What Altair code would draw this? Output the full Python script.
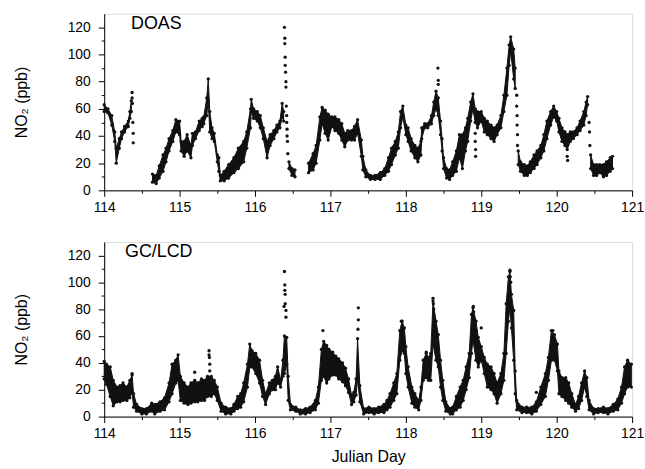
import altair as alt
import pandas as pd

# ---------------- DOAS (top panel) ----------------
doas_day = [114.00, 114.05, 114.10, 114.14, 114.16, 114.20, 114.23, 114.27, 114.32, 114.34, 114.36,
            114.64, 114.69, 114.73, 114.78, 114.82, 114.86, 114.91, 114.95, 115.00, 115.02, 115.06, 115.10,
            115.15, 115.17, 115.21, 115.26, 115.30, 115.32, 115.36, 115.38, 115.40, 115.43, 115.46, 115.50,
            115.52, 115.54, 115.59, 115.65, 115.72, 115.78, 115.85, 115.89, 115.94, 115.95, 115.98, 116.03,
            116.07, 116.11, 116.16, 116.20, 116.25, 116.29, 116.33, 116.36, 116.38,
            116.45, 116.49, 116.53,
            116.71, 116.77, 116.81, 116.86, 116.89, 116.93, 116.97, 117.02, 117.06, 117.11, 117.15, 117.19,
            117.23, 117.28, 117.32, 117.36, 117.41, 117.43, 117.47, 117.53, 117.59, 117.66, 117.72, 117.77,
            117.81, 117.86, 117.90, 117.93, 117.96, 118.00, 118.03, 118.07, 118.12, 118.16, 118.20, 118.21,
            118.25, 118.29, 118.34, 118.37, 118.40, 118.43, 118.46, 118.48, 118.50, 118.54, 118.58, 118.62,
            118.67, 118.71, 118.75, 118.79, 118.82, 118.86, 118.89, 118.92, 118.95, 119.00, 119.04, 119.08,
            119.13, 119.17, 119.21, 119.26, 119.30, 119.34, 119.37, 119.39, 119.43, 119.45,
            119.49, 119.52, 119.57, 119.61, 119.65, 119.70, 119.74, 119.79, 119.83, 119.87, 119.92, 119.96,
            120.00, 120.03, 120.07, 120.11, 120.14, 120.18, 120.22, 120.27, 120.31, 120.36, 120.39, 120.41,
            120.45, 120.49, 120.53, 120.57, 120.62, 120.66, 120.71, 120.74]
doas_lo = [58, 57, 48, 36, 20, 31, 38, 43, 47, 53, 58,
           6, 5, 9, 14, 21, 29, 36, 43, 41, 29, 25, 29,
           24, 33, 38, 44, 47, 49, 55, 66, 43, 38, 36, 21,
           14, 7, 7, 9, 13, 16, 21, 31, 46, 58, 53, 51,
           46, 38, 24, 33, 38, 43, 46, 54, 51,
           16, 11, 10,
           13, 15, 20, 37, 49, 42, 37, 47, 44, 42, 37, 32,
           37, 37, 37, 42, 25, 15, 10, 8, 8, 8, 11, 14,
           19, 26, 31, 46, 54, 41, 36, 29, 24, 21, 26, 38,
           46, 46, 49, 55, 60, 55, 41, 29, 16, 9, 8, 11,
           14, 24, 16, 29, 36, 51, 60, 50, 46, 51, 43, 41,
           38, 36, 41, 46, 58, 70, 92, 102, 82, 75,
           19, 14, 11, 11, 13, 16, 19, 24, 29, 38, 48, 54,
           51, 43, 36, 33, 30, 36, 38, 41, 44, 48, 55, 63,
           16, 11, 11, 13, 10, 11, 14, 16]
doas_hi = [63, 60, 55, 43, 31, 38, 43, 47, 51, 58, 66,
           12, 11, 18, 26, 31, 38, 44, 52, 51, 36, 36, 41,
           33, 42, 43, 51, 53, 54, 68, 82, 58, 46, 42, 26,
           24, 11, 14, 19, 24, 31, 36, 43, 60, 67, 60, 58,
           55, 46, 36, 41, 44, 48, 51, 64, 58,
           21, 16, 15,
           20, 27, 33, 54, 61, 59, 56, 54, 54, 52, 49, 42,
           44, 44, 47, 52, 37, 25, 15, 11, 11, 13, 16, 24,
           31, 36, 43, 58, 62, 48, 46, 38, 33, 31, 36, 46,
           49, 49, 55, 65, 73, 68, 51, 38, 24, 16, 15, 21,
           29, 41, 41, 46, 53, 65, 71, 60, 58, 58, 53, 51,
           48, 46, 48, 55, 70, 90, 107, 113, 104, 90,
           29, 21, 19, 18, 21, 26, 29, 33, 41, 51, 58, 62,
           58, 53, 46, 43, 41, 43, 43, 46, 51, 58, 65, 69,
           26, 19, 19, 19, 19, 21, 24, 25]
doas_seg = [1] * 11 + [2] * 45 + [3] * 3 + [4] * 70 + [5] * 24 + [6] * 8
doas_spike_day = [114.37, 114.37, 114.375, 114.38, 114.385, 114.385,
                  116.39, 116.395, 116.395, 116.40, 116.40, 116.405, 116.41, 116.41, 116.415, 116.42,
                  116.42, 116.425, 116.425, 116.43, 116.435,
                  118.425, 118.43, 118.43, 118.92, 118.92, 118.925, 118.925,
                  119.47, 119.47, 119.475, 119.475, 119.48, 119.48,
                  120.14, 120.145, 120.43, 120.435, 120.44]
doas_spike_val = [72, 68, 64, 50, 42, 35,
                  120, 112, 108, 98, 92, 87, 80, 76, 62, 55,
                  50, 45, 40, 36, 27,
                  90, 81, 78, 42, 36, 30, 25,
                  70, 62, 55, 48, 41, 33,
                  25, 22, 50, 43, 33]

# ---------------- GC/LCD (bottom panel) ----------------
gc_day = [114.00, 114.03, 114.08, 114.12, 114.17, 114.21, 114.25, 114.30, 114.34, 114.37, 114.39, 114.43,
          114.50, 114.56, 114.63, 114.67, 114.74, 114.80, 114.86, 114.90, 114.95, 114.98, 115.01, 115.06,
          115.11, 115.15, 115.20, 115.24, 115.29, 115.33, 115.37, 115.42, 115.46, 115.50, 115.55, 115.61,
          115.68, 115.72, 115.77, 115.81, 115.85, 115.90, 115.93, 115.96, 116.01, 116.06, 116.10, 116.14,
          116.19, 116.23, 116.27, 116.30, 116.34, 116.37, 116.39, 116.42, 116.44, 116.47, 116.54, 116.60,
          116.67, 116.73, 116.80, 116.84, 116.88, 116.91, 116.95, 116.98, 117.03, 117.07, 117.11, 117.16,
          117.20, 117.24, 117.28, 117.31, 117.34, 117.36, 117.39, 117.44, 117.51, 117.58, 117.64, 117.71,
          117.75, 117.79, 117.84, 117.88, 117.92, 117.95, 117.98, 118.00, 118.03, 118.08, 118.12, 118.17,
          118.20, 118.23, 118.27, 118.30, 118.33, 118.36, 118.40, 118.43, 118.46, 118.49, 118.53, 118.59,
          118.62, 118.67, 118.72, 118.76, 118.80, 118.84, 118.87, 118.89, 118.93, 118.96, 119.00, 119.04,
          119.08, 119.13, 119.17, 119.21, 119.26, 119.30, 119.33, 119.36, 119.38, 119.40, 119.43, 119.45,
          119.47, 119.54, 119.60, 119.67, 119.73, 119.79, 119.85, 119.89, 119.93, 119.97, 120.01, 120.03,
          120.07, 120.12, 120.16, 120.20, 120.25, 120.29, 120.33, 120.37, 120.40, 120.43, 120.49, 120.55,
          120.62, 120.68, 120.75, 120.81, 120.86, 120.90, 120.94, 120.99]
gc_lo = [28, 24, 15, 8, 11, 11, 12, 12, 14, 18, 7, 4,
         2, 2, 4, 2, 4, 5, 11, 17, 25, 27, 12, 10,
         9, 10, 11, 11, 12, 12, 15, 15, 17, 12, 4, 2,
         2, 4, 6, 7, 11, 22, 37, 37, 32, 25, 15, 9,
         17, 20, 20, 25, 22, 30, 32, 39, 12, 5, 4, 2,
         2, 3, 5, 10, 27, 30, 25, 28, 31, 31, 28, 26,
         23, 18, 9, 11, 16, 28, 11, 2, 3, 2, 3, 3,
         5, 7, 12, 17, 42, 49, 47, 32, 22, 10, 7, 5,
         12, 27, 29, 27, 27, 54, 42, 37, 22, 12, 4, 2,
         2, 5, 7, 12, 20, 29, 47, 57, 42, 37, 42, 32,
         22, 20, 17, 10, 17, 27, 47, 71, 81, 66, 42, 17,
         5, 3, 3, 2, 4, 9, 15, 27, 42, 42, 34, 17,
         15, 12, 10, 7, 4, 6, 12, 22, 15, 5, 2, 3,
         3, 2, 4, 5, 10, 17, 22, 22]
gc_hi = [41, 39, 37, 27, 22, 23, 25, 22, 27, 31, 17, 9,
         6, 6, 10, 9, 11, 14, 25, 39, 42, 46, 30, 25,
         22, 25, 27, 25, 28, 27, 30, 30, 27, 22, 10, 7,
         6, 9, 15, 17, 25, 39, 54, 49, 47, 42, 27, 17,
         25, 27, 30, 37, 27, 42, 60, 59, 30, 9, 7, 5,
         6, 7, 12, 22, 50, 56, 53, 50, 48, 45, 43, 40,
         36, 28, 16, 18, 28, 58, 23, 6, 7, 6, 7, 9,
         12, 17, 25, 32, 64, 71, 66, 52, 37, 22, 17, 12,
         22, 42, 47, 44, 47, 86, 71, 61, 42, 27, 11, 6,
         7, 15, 22, 27, 37, 47, 76, 81, 71, 59, 52, 44,
         39, 37, 32, 25, 32, 47, 84, 104, 108, 91, 79, 34,
         12, 7, 7, 7, 11, 22, 32, 44, 64, 61, 54, 34,
         29, 29, 25, 17, 9, 15, 25, 34, 29, 12, 6, 6,
         7, 6, 9, 13, 22, 37, 42, 39]
gc_seg = [1] * len(gc_day)
gc_spike_day = [114.37, 115.20, 115.39, 115.39, 115.395, 115.40, 115.40,
                116.39, 116.395, 116.395, 116.40, 116.40, 116.41, 116.41, 116.385,
                116.90, 117.37, 117.37, 117.365, 117.94, 118.27,
                118.36, 118.365, 118.37, 118.895, 118.90, 118.93, 119.00,
                119.38, 119.385, 119.39, 119.73, 119.95]
gc_spike_val = [32, 33, 49, 46, 44, 39, 34,
                108, 98, 94, 91, 84, 79, 74, 82,
                64, 81, 72, 65, 71, 48,
                88, 84, 80, 82, 78, 64, 66,
                109, 104, 100, 18, 64]

# axis tick positions (major + minor) and labels
x_ticks = [114, 114.5, 115, 115.5, 116, 116.5, 117, 117.5, 118, 118.5, 119, 119.5, 120, 120.5, 121]
y_ticks = [0, 10, 20, 30, 40, 50, 60, 70, 80, 90, 100, 110, 120]

BLACK = "#111111"
FONT = "Liberation Sans"


def make_panel(day, lo, hi, seg, sp_day, sp_val, label, label_x, bottom, h):
    band = pd.DataFrame({"day": day, "lo": lo, "hi": hi, "seg": seg})
    pts = pd.DataFrame({
        "day": list(day) + list(day) + list(sp_day),
        "v": list(lo) + list(hi) + list(sp_val),
    })
    xscale = alt.Scale(domain=[114, 121], nice=False, zero=False)
    yscale = alt.Scale(domain=[0, 130], nice=False, zero=True)
    xaxis_kw = dict(
        values=x_ticks, orient="bottom", grid=False,
        labelExpr="datum.value % 1 === 0 ? format(datum.value, 'd') : ''",
        tickSize={"condition": {"test": "datum.value % 1 !== 0", "value": 3}, "value": 6},
        labelOverlap=False, labelFlush=False, labelBound=False,
        labelPadding=4, labelFontSize=14, labelFont=FONT, labelColor="black",
        domainColor="black", tickColor="black",
    )
    if bottom:
        xaxis = alt.Axis(title="Julian Day", titleFontSize=16, titleFont=FONT,
                         titleFontWeight="normal", titleColor="black", titlePadding=8, **xaxis_kw)
    else:
        xaxis = alt.Axis(title=None, **xaxis_kw)
    yaxis = alt.Axis(
        values=y_ticks, title="NO₂ (ppb)", orient="left", grid=False,
        labelExpr="datum.value % 20 === 0 ? format(datum.value, 'd') : ''",
        tickSize={"condition": {"test": "datum.value % 20 !== 0", "value": 3}, "value": 6},
        labelOverlap=False, labelFlush=False, labelBound=False,
        labelPadding=8, labelFontSize=14, labelFont=FONT, labelColor="black",
        domainColor="black", tickColor="black",
        titleFontSize=16, titleFont=FONT, titleFontWeight="normal",
        titleColor="black", titlePadding=38,
    )

    area = alt.Chart(band).mark_area(color=BLACK, opacity=1, stroke=BLACK, strokeWidth=1).encode(
        x=alt.X("day:Q", scale=xscale, axis=xaxis),
        y=alt.Y("lo:Q", scale=yscale, axis=yaxis),
        y2="hi:Q",
        detail="seg:N",
    )
    dots = alt.Chart(pts).mark_circle(color=BLACK, size=11, opacity=1).encode(
        x=alt.X("day:Q", scale=xscale, axis=xaxis),
        y=alt.Y("v:Q", scale=yscale, axis=yaxis),
    )
    txt = alt.Chart(pd.DataFrame({"t": [label]})).mark_text(
        align="left", baseline="middle", fontSize=18, font=FONT, color="black"
    ).encode(text="t:N", x=alt.value(label_x), y=alt.value(10))
    return alt.layer(area, dots, txt).properties(width=532, height=h)


top = make_panel(doas_day, doas_lo, doas_hi, doas_seg, doas_spike_day, doas_spike_val,
                 "DOAS", 27, False, 178)
bot = make_panel(gc_day, gc_lo, gc_hi, gc_seg, gc_spike_day, gc_spike_val,
                 "GC/LCD", 21, True, 176)

chart = alt.vconcat(top, bot, spacing=26).properties(
    padding={"left": 13, "top": 11, "right": 0, "bottom": 2}
).configure_view(stroke=None).configure(background="white")

chart.save("out.html", embed_options={"renderer": "svg", "actions": False})
